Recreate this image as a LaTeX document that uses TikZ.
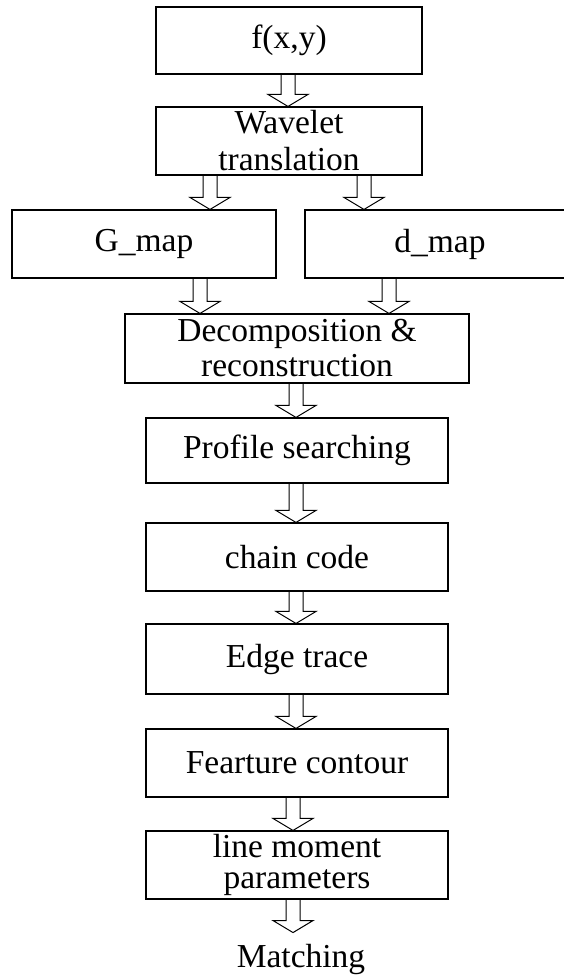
\documentclass[tikz,border=0pt]{standalone}
\usepackage{fontspec}
\setmainfont{Liberation Serif}
\usetikzlibrary{calc}

\tikzset{
  stage/.style={draw,line width=1.1pt,rectangle,inner sep=0pt,align=center,
    font=\fontsize{33.5}{35}\selectfont},
  endtext/.style={inner sep=0pt,font=\fontsize{33.5}{35}\selectfont},
  hollow/.style={line width=1pt,to path={let \p1=(\tikztostart),\p2=(\tikztotarget) in
    (\x1-7pt,\y1) -- (\x1-7pt,\y2+12pt) -- (\x1-20pt,\y2+12pt) -- (\x1,\y2)
    -- (\x1+20pt,\y2+12pt) -- (\x1+7pt,\y2+12pt) -- (\x1+7pt,\y1)}}
}

\begin{document}
\begin{tikzpicture}[x=1pt,y=-1pt]
\useasboundingbox (0,0) rectangle (564,975);
\node[stage,minimum width=266pt,minimum height=67pt] (fxy) at (289,40.5) {f(x,y)};
\node[stage,minimum width=266pt,minimum height=68pt] (wavelet) at (289,141) {Wavelet\\[2pt]translation};
\node[stage,minimum width=264pt,minimum height=68pt] (gmap) at (144,244) {G\_map};
\node[stage,minimum width=270pt,minimum height=68pt] (dmap) at (440,244) {d\_map};
\node[stage,minimum width=344pt,minimum height=69pt] (decomp) at (297,348.5) {Decomposition \&\\reconstruction};
\node[stage,minimum width=302pt,minimum height=65pt] (profile) at (297,450.5) {Profile searching};
\node[stage,minimum width=302pt,minimum height=68pt] (chain) at (297,557) {chain code};
\node[stage,minimum width=302pt,minimum height=70pt] (edge) at (297,659) {Edge trace};
\node[stage,minimum width=302pt,minimum height=68pt] (feature) at (297,763) {Fearture contour};
\node[stage,minimum width=302pt,minimum height=68pt] (moment) at (297,865) {line moment\\[-4pt]parameters};
\node[endtext,anchor=base] (match) at (301,967) {Matching};
% block arrows
\draw[hollow] ([xshift=-1pt]fxy.south) to (wavelet.north);
\draw[hollow] ([xshift=-79pt]wavelet.south) to (gmap.north);
\draw[hollow] ([xshift=75pt]wavelet.south) to (dmap.north);
\draw[hollow] ([xshift=56pt]gmap.south) to (decomp.north);
\draw[hollow] ([xshift=-51pt]dmap.south) to (decomp.north);
\draw[hollow] ([xshift=-1pt]decomp.south) to (profile.north);
\draw[hollow] ([xshift=-1pt]profile.south) to (chain.north);
\draw[hollow] ([xshift=-1pt]chain.south) to (edge.north);
\draw[hollow] ([xshift=-1pt]edge.south) to (feature.north);
\draw[hollow] ([xshift=-4pt]feature.south) to (moment.north);
\draw[hollow] ([xshift=-4pt]moment.south) to ([yshift=11pt]match.north);
\end{tikzpicture}
\end{document}
